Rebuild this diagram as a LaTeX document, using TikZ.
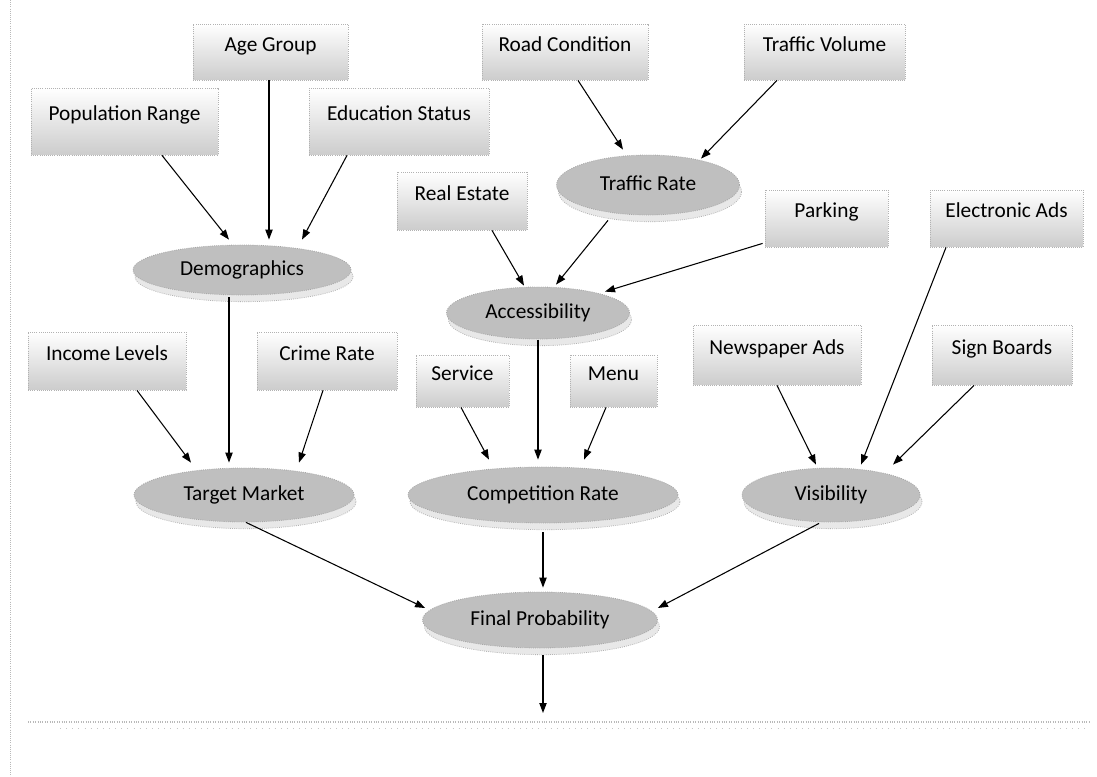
\documentclass[tikz,border=0pt]{standalone}
\usepackage{fontspec}
\setmainfont{Carlito}
\usetikzlibrary{shapes.geometric,shadows,calc,arrows.meta}
\begin{document}
\begin{tikzpicture}[x=0.75pt,y=-0.75pt,
  font=\fontsize{16}{19}\selectfont,
  factorbox/.style 2 args={rectangle, draw=gray!60, densely dotted, line width=0.6pt,
    top color=white, middle color=white, bottom color=gray!40,
    inner sep=1pt, text height=11pt, text depth=12pt,
    minimum width=#1*0.75pt, minimum height=#2*0.75pt},
  latent/.style 2 args={ellipse, draw=gray!70, densely dotted, line width=0.6pt,
    fill=gray!50, inner sep=0pt, text height=11pt, text depth=3pt,
    minimum width=#1*0.75pt, minimum height=#2*0.75pt,
    general shadow={shadow xshift=1.5pt, shadow yshift=-5pt, fill=gray!18, draw=gray!60}},
  arr/.style={-{Triangle[length=7.5pt,width=5.5pt]}, line width=0.8pt, black, solid}]

\useasboundingbox (0,0) rectangle (1097,777);
\fill[white] (0,0) rectangle (1097,777);

% frame lines of the page
\draw[gray!55, densely dotted, line width=0.6pt] (10,0) -- (10,777);
\draw[gray!55, densely dotted, line width=0.8pt] (28,722) -- (1090,722);
\draw[gray!45, loosely dotted, line width=0.6pt] (60,728) -- (1090,728);

% observed factors
\node[factorbox={155}{56}] (age)   at (270.5,52)  {Age Group};
\node[factorbox={166}{56}] (road)  at (565,52)    {Road Condition};
\node[factorbox={161}{56}] (tvol)  at (824.5,52)  {Traffic Volume};
\node[factorbox={187}{67}] (pop)   at (124.5,121.5) {Population Range};
\node[factorbox={180}{67}] (edu)   at (399,121.5) {Education Status};
\node[factorbox={130}{58}] (real)  at (462,201)   {Real Estate};
\node[factorbox={123}{57}] (park)  at (826.5,218.5) {Parking};
\node[factorbox={153}{57}] (eads)  at (1006.5,218.5) {Electronic Ads};
\node[factorbox={158}{58}] (inc)   at (107,361)   {Income Levels};
\node[factorbox={140}{58}] (crime) at (327,361)   {Crime Rate};
\node[factorbox={93}{52}]  (serv)  at (462.5,381) {Service};
\node[factorbox={87}{52}]  (menu)  at (613.5,381) {Menu};
\node[factorbox={168}{60}] (news)  at (777,355)   {Newspaper Ads};
\node[factorbox={140}{60}] (sign)  at (1002,355)  {Sign Boards};

% derived variables
\node[latent={218}{50}] (demo) at (242,270) {Demographics};
\node[latent={183}{60}] (traf) at (648,185) {Traffic Rate};
\node[latent={183}{52}] (acc)  at (538,313) {Accessibility};
\node[latent={220}{54}] (tm)   at (244,495) {Target Market};
\node[latent={270}{56}] (comp) at (543,495) {Competition Rate};
\node[latent={178}{54}] (vis)  at (831,495) {Visibility};
\node[latent={235}{56}] (fp)   at (540,620) {Final Probability};
\coordinate (out) at (543,713);

% influences
\draw[arr] ($(pop.south)+(37.5,0)$)  -- ($(demo.north)+(-13,-5)$);
\draw[arr] ($(age.south)+(-1.5,0)$)  -- ($(demo.north)+(27,-5)$);
\draw[arr] ($(edu.south)+(-52,0)$)   -- ($(demo.north)+(60,-5)$);
\draw[arr] ($(road.south)+(13,0)$)   -- ($(traf.north)+(-25,-5)$);
\draw[arr] ($(tvol.south)+(-47.5,0)$) -- ($(traf.north)+(53,4)$);
\draw[arr] ($(real.south)+(30,0)$)   -- ($(acc.north)+(-14,-1)$);
\draw[arr] ($(traf.south)+(-40,5)$)  -- ($(acc.north)+(18,-2)$);
\draw[arr] ($(park.south west)+(-2,-4)$) -- ($(acc.north)+(67,5)$);
\draw[arr] ($(demo.south)+(-13,2)$)  -- ($(tm.north)+(-15,-5)$);
\draw[arr] ($(inc.south)+(30,0)$)    -- ($(tm.north)+(-53,-5)$);
\draw[arr] ($(crime.south)+(-4,0)$)  -- ($(tm.north)+(55,-5)$);
\draw[arr] ($(serv.south)+(-1.5,0)$) -- ($(comp.north)+(-54,-7)$);
\draw[arr] ($(acc.south)+(0,1)$)     -- ($(comp.north)+(-5,-7)$);
\draw[arr] ($(menu.south)+(-7.5,0)$) -- ($(comp.north)+(41,-7)$);
\draw[arr] (news.south)               -- ($(vis.north)+(-15,-3)$);
\draw[arr] ($(eads.south)+(-60.5,0)$) -- ($(vis.north)+(30,-3)$);
\draw[arr] ($(sign.south)+(-28,0)$)  -- ($(vis.north)+(62,-3)$);
\draw[arr] ($(tm.south)+(2,0)$)      -- ($(fp.west)+(3,-12)$);
\draw[arr] ($(comp.south)+(0,9)$)    -- ($(fp.north)+(3,-4)$);
\draw[arr] ($(vis.south)+(-12,1)$)   -- ($(fp.east)+(0,-12)$);
\draw[arr] ($(fp.south)+(3,7)$)      -- (out);

\end{tikzpicture}
\end{document}
